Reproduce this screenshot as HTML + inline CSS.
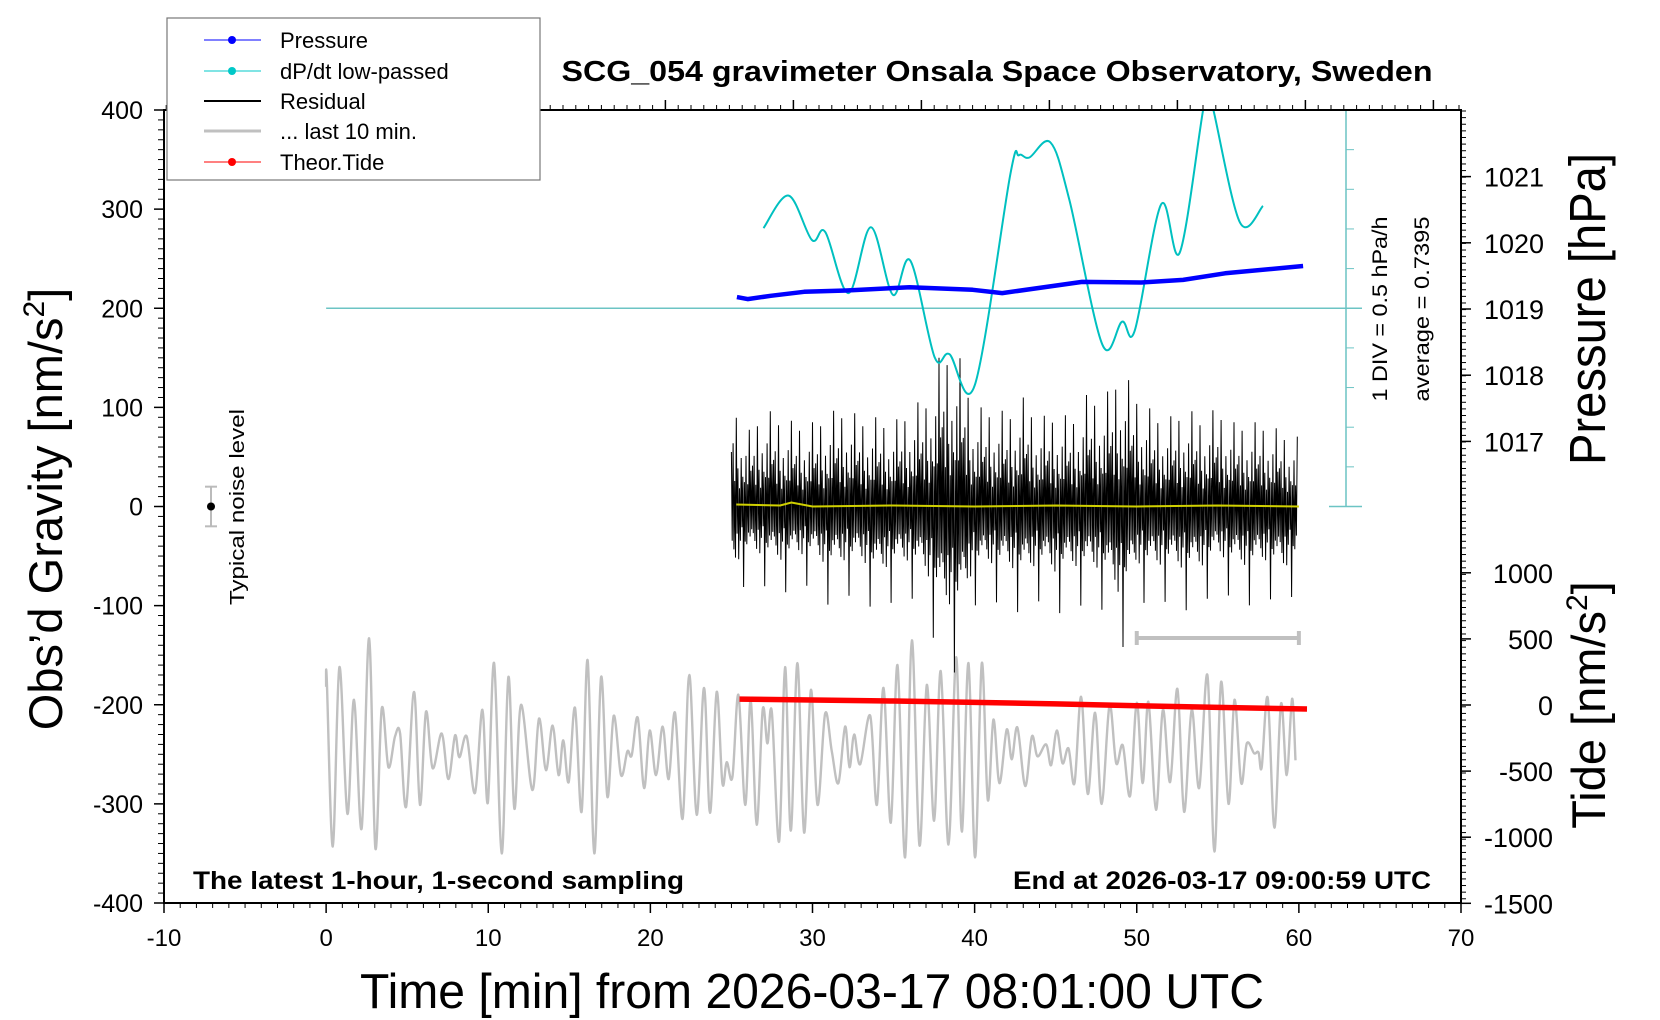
<!DOCTYPE html>
<html><head><meta charset="utf-8"><style>
html,body{margin:0;padding:0;background:#fff;}
svg{display:block;font-family:"Liberation Sans",Arial,sans-serif;}
</style></head><body>
<svg id="chart" xmlns="http://www.w3.org/2000/svg" width="1660" height="1020" viewBox="0 0 1660 1020">
<defs><clipPath id="plotclip"><rect x="164" y="110" width="1297" height="793"/></clipPath></defs>
<rect x="0" y="0" width="1660" height="1020" fill="#fff"/>
<g id="marks"></g>
<g id="axes"></g>
<text x="997" y="81" text-anchor="middle" font-size="29" font-weight="bold" textLength="871" lengthAdjust="spacingAndGlyphs">SCG_054 gravimeter Onsala Space Observatory, Sweden</text>
<text x="812" y="1008" text-anchor="middle" font-size="49" textLength="904" lengthAdjust="spacingAndGlyphs">Time [min] from 2026-03-17 08:01:00 UTC</text>
<text transform="translate(62,509) rotate(-90)" text-anchor="middle" font-size="47">Obs’d Gravity [nm/s<tspan font-size="30" dy="-18">2</tspan><tspan dy="18">]</tspan></text>
<text transform="translate(1605,309) rotate(-90)" text-anchor="middle" font-size="51" textLength="312" lengthAdjust="spacingAndGlyphs">Pressure [hPa]</text>
<text transform="translate(1605,705) rotate(-90)" text-anchor="middle" font-size="47">Tide [nm/s<tspan font-size="30" dy="-18">2</tspan><tspan dy="18">]</tspan></text>
<text transform="translate(1387,309) rotate(-90)" text-anchor="middle" font-size="21" textLength="185" lengthAdjust="spacingAndGlyphs">1 DIV = 0.5 hPa/h</text>
<text transform="translate(1429,309) rotate(-90)" text-anchor="middle" font-size="21" textLength="185" lengthAdjust="spacingAndGlyphs">average = 0.7395</text>
<text transform="translate(244,507) rotate(-90)" text-anchor="middle" font-size="20" textLength="196" lengthAdjust="spacingAndGlyphs">Typical noise level</text>
<text x="193" y="889" font-size="25" font-weight="bold" textLength="491" lengthAdjust="spacingAndGlyphs">The latest 1-hour, 1-second sampling</text>
<text x="1431" y="889" text-anchor="end" font-size="25" font-weight="bold" textLength="418" lengthAdjust="spacingAndGlyphs">End at 2026-03-17 09:00:59 UTC</text>
<g>
<rect x="167" y="18" width="373" height="162" fill="#fff" stroke="#777" stroke-width="1.2"/>
<line x1="204" y1="40" x2="261" y2="40" stroke="#0000ff" stroke-width="1"/><circle cx="232" cy="40" r="4" fill="#0000ff"/>
<text x="280" y="48" font-size="22">Pressure</text>
<line x1="204" y1="71" x2="261" y2="71" stroke="#00c8c8" stroke-width="1"/><circle cx="232" cy="71" r="4" fill="#00c8c8"/>
<text x="280" y="79" font-size="22">dP/dt low-passed</text>
<line x1="204" y1="101" x2="261" y2="101" stroke="#000" stroke-width="2"/>
<text x="280" y="109" font-size="22">Residual</text>
<line x1="204" y1="131" x2="261" y2="131" stroke="#c0c0c0" stroke-width="3"/>
<text x="280" y="139" font-size="22">... last 10 min.</text>
<line x1="204" y1="162" x2="261" y2="162" stroke="#ff0000" stroke-width="1"/><circle cx="232" cy="162" r="4" fill="#ff0000"/>
<text x="280" y="170" font-size="22">Theor.Tide</text>
</g>
</svg>
<script>
// ---- data ----
const xTicks = [-10,0,10,20,30,40,50,60,70];
const gTicks = [400,300,200,100,0,-100,-200,-300,-400];
const pTicks = [1021,1020,1019,1018,1017];
const tideTicks = [1000,500,0,-500,-1000,-1500];
const dpdtAverage = 0.7395;
const dpdtT = [26.98,28.53,29.96,30.79,32.22,33.60,34.95,36.03,37.54,38.45,40.01,42.21,42.73,43.38,44.68,45.85,47.88,49.09,49.88,51.51,52.65,54.11,54.45,54.73,56.37,57.79];
const dpdtV = [1.75,2.16,1.60,1.70,0.93,1.76,0.91,1.34,0.12,0.16,-0.23,2.44,2.67,2.64,2.83,2.10,0.28,0.57,0.46,2.05,1.44,3.26,3.40,3.24,1.82,2.03];
const pressT = [25.34,26.0,27.42,29.48,32.09,35.98,39.88,41.70,46.63,50.27,52.86,55.45,60.26];
const pressV = [1019.18,1019.15,1019.20,1019.26,1019.28,1019.33,1019.29,1019.24,1019.41,1019.40,1019.44,1019.54,1019.65];
const residT = [25,26,27,28,29,30,31,32,33,34,35,36,37,38,39,40,41,42,43,44,45,46,47,48,49,50,51,52,53,54,55,56,57,58,59,60];
const residMax = [110,75,100,90,85,85,95,100,90,90,85,100,110,160,155,100,100,95,110,90,95,90,115,110,140,115,95,90,100,90,100,85,85,85,75,70];
const residMin = [-100,-75,-80,-90,-80,-80,-100,-90,-90,-110,-95,-90,-110,-160,-170,-100,-95,-100,-110,-95,-110,-100,-100,-105,-150,-95,-100,-95,-105,-100,-80,-95,-100,-90,-105,-80];
const tideT = [25.5,30,35,40,45,50,55,60.5];
const tideV = [45,38,30,20,8,-5,-18,-30];
const grayT = [0,0.04,0.41,0.82,1.31,1.72,2.19,2.65,3.04,3.43,3.84,4.25,4.56,4.93,5.42,5.79,6.16,6.57,7.13,7.54,7.95,8.22,8.67,9.18,9.64,9.97,10.36,10.83,11.24,11.61,12.02,12.72,13.13,13.56,13.97,14.34,14.63,14.96,15.35,15.76,16.13,16.54,16.96,17.35,17.74,18.19,18.58,18.85,19.22,19.61,19.96,20.35,20.76,21.13,21.52,21.99,22.40,22.86,23.31,23.68,24.09,24.44,24.71,25.06,25.43,25.85,26.19,26.56,26.93,27.22,27.49,27.94,28.31,28.66,29.07,29.48,29.90,30.31,30.78,31.19,31.60,32.01,32.28,32.57,32.94,33.56,33.97,34.38,34.83,35.24,35.71,36.13,36.60,37.05,37.50,37.91,38.39,38.86,39.21,39.62,40.03,40.44,40.81,41.16,41.53,41.98,42.29,42.64,43.12,43.53,43.88,44.41,44.72,45.07,45.42,45.79,46.16,46.57,46.98,47.43,47.84,48.32,48.73,49.14,49.59,50.00,50.37,50.72,51.19,51.61,52.06,52.51,52.92,53.39,53.85,54.36,54.79,55.20,55.66,56.03,56.44,56.79,57.24,57.51,57.71,58.08,58.49,58.90,59.25,59.58,59.79];
const grayV = [-182,-175,-343,-162,-310,-195,-325,-133,-345,-204,-263,-232,-229,-303,-187,-301,-207,-264,-229,-275,-231,-253,-232,-289,-205,-299,-158,-350,-172,-305,-200,-286,-214,-266,-221,-271,-236,-278,-203,-308,-155,-350,-172,-293,-211,-271,-247,-251,-213,-284,-226,-271,-222,-275,-208,-315,-170,-311,-183,-309,-187,-279,-258,-273,-190,-301,-195,-321,-205,-239,-207,-338,-162,-327,-158,-329,-185,-301,-209,-247,-279,-222,-263,-230,-260,-211,-301,-183,-319,-160,-354,-135,-342,-180,-317,-166,-341,-152,-328,-158,-354,-158,-296,-215,-279,-225,-255,-223,-282,-232,-252,-240,-261,-226,-259,-244,-279,-192,-290,-208,-300,-201,-259,-241,-292,-198,-279,-197,-306,-205,-278,-184,-308,-205,-284,-170,-348,-177,-300,-195,-279,-239,-249,-248,-263,-193,-324,-199,-271,-194,-256];
const yellowT = [25.3,28,28.7,30,35,40,45,50,55,60];
const yellowV = [2,1,4,0,1,0,1,0,1,0];
const residPattern = [0.5,-0.35,0.6,-0.45,0.25,-0.55,0.9,-0.3,0.4,-0.6,0.2,-0.4,0.55,-0.25,0.35,-1,0.3,-0.45,0.65,-0.5,0.3,-0.35,1,-0.4,0.45,-0.3];

// ---- scales ----
const X = t => 164 + (t + 10) * 16.2125;
const Y = g => 110 + (400 - g) * 0.99125;
const P = h => 309 - (h - 1019) * 66.2;
const TD = n => 705 - n * 0.1322;
const DP = v => Y(200 + (v - dpdtAverage) * 80);
const NS = 'http://www.w3.org/2000/svg';
const marks = document.getElementById('marks');
const axes = document.getElementById('axes');
function mk(tag, attrs, parent){const e=document.createElementNS(NS,tag);for(const k in attrs)e.setAttribute(k,attrs[k]);(parent||marks).appendChild(e);return e;}
function smooth(pts){let d='M'+pts[0][0].toFixed(1)+','+pts[0][1].toFixed(1);for(let i=0;i<pts.length-1;i++){const p0=pts[Math.max(0,i-1)],p1=pts[i],p2=pts[i+1],p3=pts[Math.min(pts.length-1,i+2)];const c1x=p1[0]+(p2[0]-p0[0])/6,c1y=p1[1]+(p2[1]-p0[1])/6,c2x=p2[0]-(p3[0]-p1[0])/6,c2y=p2[1]-(p3[1]-p1[1])/6;d+=' C'+c1x.toFixed(1)+','+c1y.toFixed(1)+' '+c2x.toFixed(1)+','+c2y.toFixed(1)+' '+p2[0].toFixed(1)+','+p2[1].toFixed(1);}return d;}
function interp(ts,vs,t){if(t<=ts[0])return vs[0];for(let i=1;i<ts.length;i++){if(t<=ts[i]){const f=(t-ts[i-1])/(ts[i]-ts[i-1]);return vs[i-1]+f*(vs[i]-vs[i-1]);}}return vs[vs.length-1];}

// gray last-10-min trace
const gray = mk('path',{d:smooth(grayT.map((t,i)=>[X(t),Y(grayV[i])])),fill:'none',stroke:'#c0c0c0','stroke-width':2.4});



// residual
let rd='';let k=0;
for(let t=residT[0]; t<=59.9; t+=0.05){const up=interp(residT,residMax,t),lo=interp(residT,residMin,t);const f=residPattern[k%residPattern.length];const v=f>=0?f*up:-f*lo;rd+=(k?' L':'M')+X(t).toFixed(1)+','+Y(v).toFixed(1);k++;}
const resid = mk('path',{d:rd,fill:'none',stroke:'#000','stroke-width':1});



// yellow
const yl = mk('polyline',{points:yellowT.map((t,i)=>X(t).toFixed(1)+','+Y(yellowV[i]).toFixed(1)).join(' '),fill:'none',stroke:'#d0d000','stroke-width':2});



// tide
const td = mk('polyline',{points:tideT.map((t,i)=>X(t).toFixed(1)+','+TD(tideV[i]).toFixed(1)).join(' '),fill:'none',stroke:'#ff0000','stroke-width':5.5});



// dp/dt baseline and scale
const bl = mk('line',{x1:X(0),y1:Y(200),x2:1362,y2:Y(200),stroke:'#6cc4c4','stroke-width':1.5});


const sc = mk('line',{x1:1346,y1:Y(400),x2:1346,y2:Y(0),stroke:'#6cc4c4','stroke-width':1.5});


mk('line',{x1:1329,y1:Y(400),x2:1362,y2:Y(400),stroke:'#6cc4c4','stroke-width':1.5});
mk('line',{x1:1329,y1:Y(0),x2:1362,y2:Y(0),stroke:'#6cc4c4','stroke-width':1.5});
for(let g=40; g<400; g+=40){mk('line',{x1:1346,y1:Y(g),x2:1354,y2:Y(g),stroke:'#6cc4c4','stroke-width':1});}

// dp/dt
const dp = mk('path',{d:smooth(dpdtT.map((t,i)=>[X(t),DP(dpdtV[i])])),fill:'none',stroke:'#00c0c0','stroke-width':2,'clip-path':'url(#plotclip)'});



// pressure
const pr = mk('polyline',{points:pressT.map((t,i)=>X(t).toFixed(1)+','+P(pressV[i]).toFixed(1)).join(' '),fill:'none',stroke:'#0000ff','stroke-width':4.5,'stroke-linejoin':'round'});



// noise bar
const nb = mk('line',{x1:211,y1:Y(20),x2:211,y2:Y(-20),stroke:'#bbb','stroke-width':2});


mk('line',{x1:205,y1:Y(20),x2:217,y2:Y(20),stroke:'#bbb','stroke-width':2});
mk('line',{x1:205,y1:Y(-20),x2:217,y2:Y(-20),stroke:'#bbb','stroke-width':2});
mk('circle',{cx:211,cy:Y(0),r:4,fill:'#000'});

// 10-minute bar
const tb = mk('line',{x1:X(50),y1:638,x2:X(60),y2:638,stroke:'#c0c0c0','stroke-width':4});


mk('line',{x1:X(50),y1:631,x2:X(50),y2:645,stroke:'#c0c0c0','stroke-width':4});
mk('line',{x1:X(60),y1:631,x2:X(60),y2:645,stroke:'#c0c0c0','stroke-width':4});

// ---- axes ----
const frame = mk('rect',{x:164,y:110,width:1297,height:793,fill:'none',stroke:'#000','stroke-width':2},axes);


for(let t=-10;t<=70;t+=1){const maj=t%10===0;mk('line',{x1:X(t),y1:903,x2:X(t),y2:903+(maj?10:5),stroke:'#000','stroke-width':maj?1.5:1},axes);}
xTicks.forEach(t=>{const e=mk('text',{x:X(t),y:946,'text-anchor':'middle','font-size':24},axes);e.textContent=t;

});
for(let x=153.4;x<=1461;x+=12.8){const i=Math.round((x-793)/12.8);const maj=i%10===0;if(x<164)continue;mk('line',{x1:x,y1:110,x2:x,y2:110-(maj?10:5),stroke:'#000','stroke-width':maj?1.5:1},axes);}
for(let g=-400;g<=400;g+=10){const maj=g%100===0;mk('line',{x1:164,y1:Y(g),x2:164-(maj?10:6),y2:Y(g),stroke:'#000','stroke-width':maj?1.5:1},axes);}
gTicks.forEach(g=>{const e=mk('text',{x:143,y:Y(g)+9,'text-anchor':'end','font-size':25},axes);e.textContent=g;

});
for(let y=111;y<=903;y+=6.62){mk('line',{x1:1461,y1:y,x2:1466,y2:y,stroke:'#000','stroke-width':1},axes);}
pTicks.forEach(h=>{mk('line',{x1:1461,y1:P(h),x2:1471,y2:P(h),stroke:'#000','stroke-width':1.5},axes);const e=mk('text',{x:1484,y:P(h)+10,'font-size':27},axes);e.textContent=h;

});
tideTicks.forEach(n=>{mk('line',{x1:1461,y1:TD(n),x2:1471,y2:TD(n),stroke:'#000','stroke-width':1.5},axes);const e=mk('text',{x:1553,y:TD(n)+10,'text-anchor':'end','font-size':27},axes);e.textContent=n;

});
</script>
</body></html>
